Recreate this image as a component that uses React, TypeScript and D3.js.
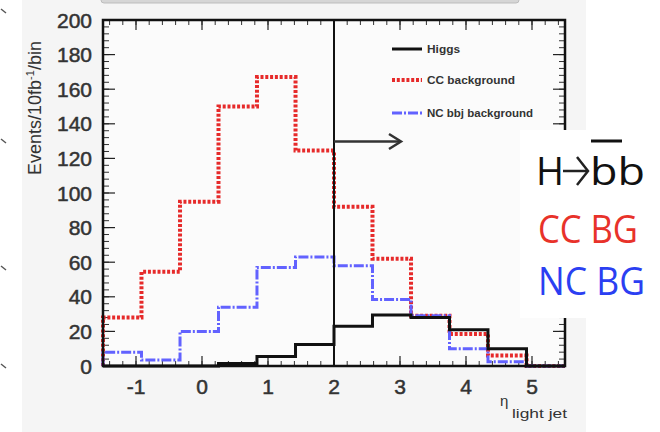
import React from "react";
import * as d3 from "d3";

const binEdges = [-1.5, -0.917, -0.333, 0.25, 0.833, 1.417, 2.0, 2.583, 3.167, 3.75, 4.333, 4.917, 5.5];
const higgs = [0, 0, 0, 1.5, 5.5, 12.5, 23, 29.5, 28, 21, 10, 0];
const ccBackground = [28, 54.5, 95, 150, 167, 124.5, 92, 62, 29, 18.5, 6, 0];
const ncBackground = [8, 3.5, 20, 34, 57, 63, 58, 38.5, 29, 10, 2.5, 0];
const xTicks = [-1, 0, 1, 2, 3, 4, 5];
const yTicks = [0, 20, 40, 60, 80, 100, 120, 140, 160, 180, 200];
const cutValue = 2;
const legendLabels = ["Higgs", "CC background", "NC bbj background"];
const boxLabels = ["H", "bb", "CC BG", "NC BG"];

const W = 660, H = 432;
const L = 103, R = 565, T = 20, B = 366;

export default function App() {
  const x = d3.scaleLinear().domain([-1.5, 5.5]).range([L, R]);
  const y = d3.scaleLinear().domain([0, 200]).range([B, T]);

  const stepPath = (vals: number[]) => {
    let p = `M${x(binEdges[0])},${y(0)}`;
    vals.forEach((v, i) => {
      p += `V${y(v)}H${x(binEdges[i + 1])}`;
    });
    p += `V${y(0)}`;
    return p;
  };

  const xMinor = d3.range(-1.4, 5.5, 0.2).map((v) => +v.toFixed(2));
  const yMinor = d3.range(0, 201, 4);

  const series = [
    { vals: ccBackground, stroke: "#e62a2a", w: 4, dash: "3,1.8", label: legendLabels[1] },
    { vals: ncBackground, stroke: "#6262ff", w: 3, dash: "10,2,2,2", label: legendLabels[2] },
    { vals: higgs, stroke: "#111", w: 3, dash: "", label: legendLabels[0] },
  ];
  const legendOrder = [series[2], series[0], series[1]];
  const legendY = [49, 80, 113];
  const legendLen = [33, 88, 106];

  const tickFont = { fontFamily: "Liberation Sans, Arial", fontSize: 21, fill: "#333", stroke: "#333", strokeWidth: 0.5 };

  return (
    <svg width={W} height={H} style={{ position: "fixed", left: 0, top: 0 }}>
      <rect x={0} y={0} width={W} height={H} fill="#ffffff" />
      <rect x={22} y={0} width={564} height={H} fill="#f5f5f5" />
      <rect x={101} y={-4} width={418} height={7} rx={3} fill="#d6d6d6" stroke="#bdbdbd" />
      {[13, 143, 270, 368].map((yy, i) => (
        <path key={i} d={`M1,${yy - 4}L6,${yy}`} stroke="#555" strokeWidth={1.5} fill="none" />
      ))}
      <rect x={L} y={T} width={R - L} height={B - T} fill="#fbfbfb" />

      {xMinor.map((v, i) => (
        <g key={"xm" + i} stroke="#333" strokeWidth={1}>
          <line x1={x(v)} x2={x(v)} y1={B} y2={B - 5} />
          <line x1={x(v)} x2={x(v)} y1={T} y2={T + 5} />
        </g>
      ))}
      {xTicks.map((v, i) => (
        <g key={"xM" + i} stroke="#222" strokeWidth={1.2}>
          <line x1={x(v)} x2={x(v)} y1={B} y2={B - 10} />
          <line x1={x(v)} x2={x(v)} y1={T} y2={T + 10} />
        </g>
      ))}
      {yMinor.map((v, i) => (
        <g key={"ym" + i} stroke="#333" strokeWidth={1}>
          <line x1={L} x2={L + 6} y1={y(v)} y2={y(v)} />
          <line x1={R} x2={R - 6} y1={y(v)} y2={y(v)} />
        </g>
      ))}
      {yTicks.map((v, i) => (
        <g key={"yM" + i} stroke="#222" strokeWidth={1.2}>
          <line x1={L} x2={L + 12} y1={y(v)} y2={y(v)} />
          <line x1={R} x2={R - 12} y1={y(v)} y2={y(v)} />
        </g>
      ))}

      {series.map((s, i) => (
        <path key={"s" + i} d={stepPath(s.vals)} fill="none" stroke={s.stroke} strokeWidth={s.w}
          strokeDasharray={s.dash || undefined} strokeLinejoin="miter" />
      ))}

      <line x1={x(cutValue)} x2={x(cutValue)} y1={T} y2={B} stroke="#111" strokeWidth={2} />
      <line x1={x(cutValue)} x2={401} y1={141.5} y2={141.5} stroke="#333" strokeWidth={2.5} />
      <path d="M389,134L401,141.5L389,149" fill="none" stroke="#333" strokeWidth={2.5} />

      <rect x={L} y={T} width={R - L} height={B - T} fill="none" stroke="#111" strokeWidth={2.5} />

      {legendOrder.map((s, i) => (
        <g key={"lg" + i}>
          <line x1={392} x2={422} y1={legendY[i]} y2={legendY[i]} stroke={s.stroke} strokeWidth={s.w}
            strokeDasharray={s.dash || undefined} />
          <text x={427} y={legendY[i]} dy="0.35em" fontFamily="Liberation Sans, Arial" fontSize={11}
            fontWeight="bold" fill="#333" textLength={legendLen[i]} lengthAdjust="spacingAndGlyphs">{s.label}</text>
        </g>
      ))}

      {yTicks.map((v, i) => (
        <text key={"yl" + i} x={92} y={y(v)} dy="0.36em" textAnchor="end" {...tickFont}>{v}</text>
      ))}
      {xTicks.map((v, i) => (
        <text key={"xl" + i} x={x(v)} y={386} dy="0.36em" textAnchor="middle" {...tickFont}>{v}</text>
      ))}

      <text transform="translate(41,108) rotate(-90)" textAnchor="middle"
        fontFamily="Liberation Sans, Arial" fontSize={18} fill="#333">
        Events/10fb<tspan fontSize={11} dy={-7}>-1</tspan><tspan dy={7}>/bin</tspan>
      </text>
      <text x={500} y={406} fontFamily="Liberation Sans, Arial" fontSize={15} fill="#333">{"\u03b7"}</text>
      <text x={512} y={418} fontFamily="Liberation Sans, Arial" fontSize={12} fill="#333"
        textLength={55} lengthAdjust="spacingAndGlyphs">light jet</text>

      <rect x={520} y={130} width={140} height={188} fill="#ffffff" />
      <text x={536} y={185} fontFamily="Open Sans" fontSize={38} fill="#111">{boxLabels[0]}</text>
      <line x1={563} x2={587} y1={171} y2={171} stroke="#222" strokeWidth={2.5} />
      <path d="M577,157L588,171L577,185" fill="none" stroke="#222" strokeWidth={2.5} />
      <text x={590} y={185} fontFamily="Open Sans" fontSize={38} fill="#111" textLength={55}
        lengthAdjust="spacingAndGlyphs">{boxLabels[1]}</text>
      <line x1={591} x2={622} y1={141} y2={141} stroke="#111" strokeWidth={3} />
      <text x={538} y={243} fontFamily="Open Sans" fontSize={38} fill="#e8322a" textLength={100}
        lengthAdjust="spacingAndGlyphs">{boxLabels[2]}</text>
      <text x={538} y={295} fontFamily="Open Sans" fontSize={38} fill="#2b3ff2" textLength={107}
        lengthAdjust="spacingAndGlyphs">{boxLabels[3]}</text>
    </svg>
  );
}
